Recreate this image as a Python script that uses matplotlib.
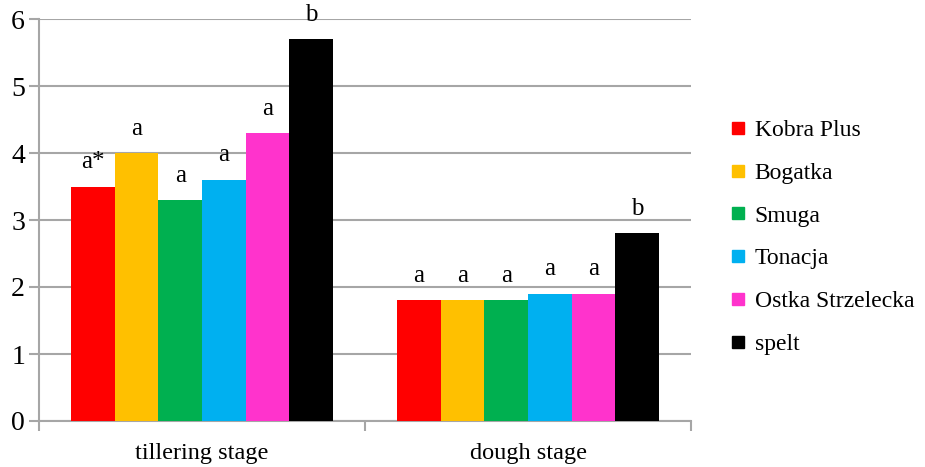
import numpy as np
import matplotlib.pyplot as plt
from matplotlib.lines import Line2D

# data
stages = ['tillering stage', 'dough stage']
varieties = ['Kobra Plus', 'Bogatka', 'Smuga', 'Tonacja', 'Ostka Strzelecka', 'spelt']
colors = ['#FF0000', '#FFC000', '#00B050', '#00B0F0', '#FF33CC', '#000000']
tillering = [3.5, 4.0, 3.3, 3.6, 4.3, 5.7]
dough = [1.8, 1.8, 1.8, 1.9, 1.9, 2.8]
letters_tillering = ['a*', 'a', 'a', 'a', 'a', 'b']
letters_dough = ['a', 'a', 'a', 'a', 'a', 'b']

plt.rcParams['font.family'] = ['Liberation Serif', 'DejaVu Serif']
grid_col = '#A6A6A6'

fig = plt.figure(figsize=(9.25, 4.67), dpi=100)
ax = fig.add_axes([39 / 925, 46 / 467, 652 / 925, 402 / 467])

values = np.array([tillering, dough])
letters = [letters_tillering, letters_dough]
centers = np.array([0.5, 1.5])
w = 0.134
n = len(varieties)
for i in range(n):
    xs = centers + (i - (n - 1) / 2) * w
    ax.bar(xs, values[:, i], width=w, color=colors[i], zorder=3)
    for g in range(2):
        ax.text(xs[g], values[g, i] + 0.2, letters[g][i], ha='center', va='bottom',
                fontsize=18, zorder=4)

ax.set_xlim(0, 2)
ax.set_ylim(0, 6)
ax.set_yticks(range(7))
ax.yaxis.grid(True, color=grid_col, linewidth=1.5, zorder=0)
ax.set_xticks([0, 1, 2])
ax.set_xticklabels([])
ax.set_xticks(centers, minor=True)
ax.set_xticklabels(stages, minor=True)
ax.tick_params(axis='x', which='major', length=7, width=1.5, color=grid_col, direction='out')
ax.tick_params(axis='x', which='minor', length=0, labelsize=17.5, pad=16)
ax.tick_params(axis='y', length=7, width=1.5, color=grid_col, labelsize=20, pad=3)
for s in ['top', 'right']:
    ax.spines[s].set_visible(False)
for s in ['left', 'bottom']:
    ax.spines[s].set_color(grid_col)
    ax.spines[s].set_linewidth(1.5)

handles = [Line2D([], [], marker='s', linestyle='none', markersize=9,
                  markerfacecolor=c, markeredgecolor=c) for c in colors]
fig.legend(handles, varieties, loc='center left', bbox_to_anchor=(705 / 925, 0.492),
           frameon=False, fontsize=17, labelspacing=0.9, handletextpad=0.2,
           handlelength=1.0)

fig.savefig('out.png', dpi=100)
